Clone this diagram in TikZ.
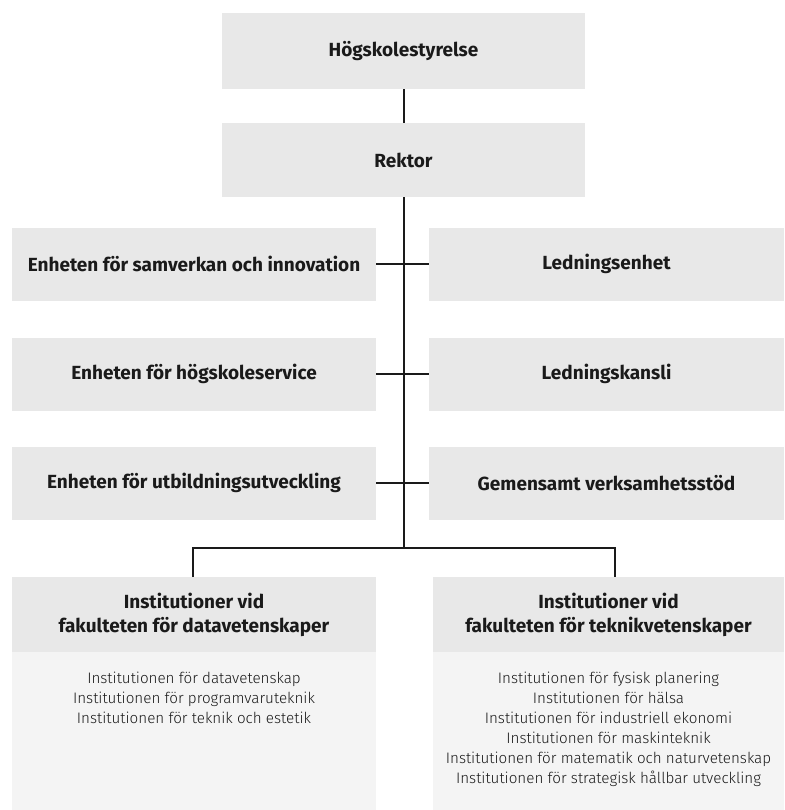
\documentclass[tikz,border=0pt]{standalone}
\usepackage{fontspec}
\setmainfont{Fira Sans}
\newfontfamily\lightf{Fira Sans Light}
\definecolor{boxgray}{HTML}{E8E8E8}
\definecolor{bodygray}{HTML}{F4F4F4}
\definecolor{ink}{HTML}{1A1A1A}
\tikzset{
  box/.style={fill=boxgray, draw=none, inner sep=0pt, text=ink, font=\fontsize{19}{22}\selectfont\bfseries, align=center},
  head/.style={fill=boxgray, draw=none, inner sep=0pt, text=ink, font=\fontsize{19}{24}\selectfont\bfseries, align=center},
  bodybox/.style={fill=bodygray, draw=none, inner sep=0pt},
  bodytext/.style={inner sep=0pt, text=ink, font=\lightf\fontsize{15.2}{20}\selectfont, align=center},
  conn/.style={draw=ink, line width=2pt}
}
\begin{document}
\begin{tikzpicture}[x=1pt,y=-1pt]
\fill[white] (0,0) rectangle (784,810);
\useasboundingbox (0,0) rectangle (784,810);
% top boxes
\node[box, minimum width=363, minimum height=76] (hs) at (403.5,51) {Högskolestyrelse};
\node[box, minimum width=363, minimum height=74] (rek) at (403.5,160) {Rektor};
% rows
\node[box, minimum width=364, minimum height=73] (l1) at (194,264) {Enheten för samverkan och innovation};
\node[box, minimum width=355, minimum height=73] (r1) at (606.5,264) {Ledningsenhet};
\node[box, minimum width=364, minimum height=73] (l2) at (194,374) {Enheten för högskoleservice};
\node[box, minimum width=355, minimum height=73] (r2) at (606.5,374) {Ledningskansli};
\node[box, minimum width=364, minimum height=73] (l3) at (194,483) {Enheten för utbildningsutveckling};
\node[box, minimum width=355, minimum height=73] (r3) at (606.5,483) {Gemensamt verksamhetsstöd};
% bottom boxes
\node[bodybox, minimum width=364, minimum height=158, anchor=north] (lb) at (194,652) {};
\node[bodybox, minimum width=351, minimum height=158, anchor=north] (rb) at (608.5,652) {};
\node[head, minimum width=364, minimum height=75, anchor=north] (lh) at (194,577) {Institutioner vid\\fakulteten för datavetenskaper};
\node[head, minimum width=351, minimum height=75, anchor=north] (rh) at (608.5,577) {Institutioner vid\\fakulteten för teknikvetenskaper};
\node[bodytext, anchor=north] (lt) at (194,672) {Institutionen för datavetenskap\\Institutionen för programvaruteknik\\Institutionen för teknik och estetik};
\node[bodytext, anchor=north] (rt) at (608.5,672) {Institutionen för fysisk planering\\Institutionen för hälsa\\Institutionen för industriell ekonomi\\Institutionen för maskinteknik\\Institutionen för matematik och naturvetenskap\\Institutionen för strategisk hållbar utveckling};
% connectors
\coordinate (sp) at (404,548);
\coordinate (bl) at (193,548);
\coordinate (br) at (615,548);
\draw[conn] (hs.south -| sp) -- (rek.north -| sp);
\draw[conn] (rek.south -| sp) -- (sp);
\draw[conn] (l1.east) -- (r1.west);
\draw[conn] (l2.east) -- (r2.west);
\draw[conn] (l3.east) -- (r3.west);
\draw[conn] (lh.north -| bl) -- (bl) -- (br) -- (lh.north -| br);
\end{tikzpicture}
\end{document}
